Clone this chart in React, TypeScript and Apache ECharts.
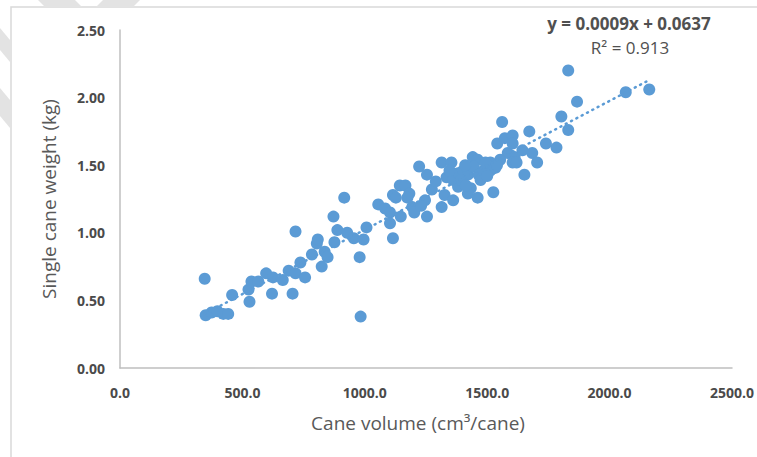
import React, { useEffect, useRef } from "react";
import * as echarts from "echarts";

const caneVolume: number[] = [
  346, 350, 374, 398, 422, 442, 458, 525, 529, 537, 565, 597, 625, 621, 665, 689, 705, 717, 737, 756,
  717, 784, 804, 824, 836, 848, 876, 808, 916, 872, 888, 928, 955, 995, 1007, 979, 983, 1055, 1083, 1103,
  1115, 1103, 1147, 1194, 1143, 1166, 1115, 1182, 1222, 1254, 1127, 1202, 1254, 1246, 1274, 1314, 1326, 1361, 1314, 1354,
  1334, 1361, 1381, 1401, 1421, 1441, 1461, 1445, 1465, 1433, 1381, 1421, 1461, 1513, 1513, 1525, 1561, 1541, 1572, 1604,
  1584, 1612, 1604, 1803, 1831, 1672, 1740, 1783, 1644, 1684, 1704, 1652, 1620, 1831, 1867, 2066, 2162, 1604, 1393, 1413,
  1473, 1485, 1493, 1533, 1553, 1346, 1174, 1230, 1290, 1410, 1500, 1540
];
const caneWeight: number[] = [
  0.66, 0.39, 0.41, 0.42, 0.40, 0.40, 0.54, 0.58, 0.49, 0.64, 0.64, 0.70, 0.67, 0.55, 0.65, 0.72, 0.55, 0.70, 0.78, 0.67,
  1.01, 0.84, 0.92, 0.75, 0.86, 0.82, 0.93, 0.95, 1.26, 1.12, 1.02, 1.00, 0.96, 0.95, 1.04, 0.82, 0.38, 1.21, 1.18, 1.15,
  0.96, 1.07, 1.12, 1.19, 1.35, 1.35, 1.28, 1.29, 1.49, 1.43, 1.26, 1.15, 1.12, 1.24, 1.32, 1.19, 1.28, 1.24, 1.52, 1.52,
  1.41, 1.39, 1.44, 1.46, 1.43, 1.56, 1.54, 1.49, 1.43, 1.33, 1.34, 1.29, 1.26, 1.52, 1.46, 1.30, 1.82, 1.66, 1.70, 1.72,
  1.59, 1.56, 1.52, 1.86, 1.76, 1.75, 1.66, 1.63, 1.61, 1.59, 1.52, 1.43, 1.52, 2.20, 1.97, 2.04, 2.06, 1.66, 1.39, 1.35,
  1.39, 1.46, 1.52, 1.48, 1.54, 1.46, 1.26, 1.20, 1.38, 1.50, 1.42, 1.50
];

const trendX: number[] = [346, 2162];
const trendY: number[] = [0.40, 2.13];

const xTicks = { min: 0, max: 2500, interval: 500 };
const yTicks = { min: 0, max: 2.5, interval: 0.5 };

const equationText = "y = 0.0009x + 0.0637";
const r2Text = "R² = 0.913";
const xTitle = "Cane volume (cm³/cane)";
const yTitle = "Single cane weight (kg)";

export default function App() {
  const ref = useRef<HTMLDivElement>(null);
  useEffect(() => {
    if (!ref.current) return;
    const chart = echarts.init(ref.current, undefined, { renderer: "svg", width: 757, height: 457 });
    const font = "'Open Sans', 'Noto Sans', sans-serif";
    const blue = "#5b9bd5";
    const textColor = "#595959";
    chart.setOption({
      animation: false,
      backgroundColor: "#ffffff",
      grid: { left: 120, width: 628, top: 30, height: 338, containLabel: false },
      xAxis: {
        type: "value",
        min: xTicks.min,
        max: xTicks.max,
        interval: xTicks.interval,
        name: xTitle,
        nameLocation: "middle",
        nameGap: 45,
        nameTextStyle: { color: textColor, fontSize: 19, fontFamily: font, padding: [0, 16, 0, 0] },
        axisLine: { show: true, lineStyle: { color: "#bfbfbf", width: 1.5 } },
        axisTick: { show: false },
        splitLine: { show: false },
        axisLabel: {
          margin: 17,
          color: "#4a4a4a",
          fontSize: 14,
          fontWeight: "bold",
          fontFamily: font,
          formatter: (v: number) => v.toFixed(1),
        },
      },
      yAxis: {
        type: "value",
        min: yTicks.min,
        max: yTicks.max,
        interval: yTicks.interval,
        name: yTitle,
        nameLocation: "middle",
        nameGap: 62,
        nameRotate: 90,
        nameTextStyle: { color: textColor, fontSize: 19, fontFamily: font },
        axisLine: { show: true, lineStyle: { color: "#bfbfbf", width: 1.5 } },
        axisTick: { show: false },
        splitLine: { show: false },
        axisLabel: {
          margin: 15,
          color: "#4a4a4a",
          fontSize: 14,
          fontWeight: "bold",
          fontFamily: font,
          formatter: (v: number) => v.toFixed(2),
        },
      },
      series: [
        {
          type: "scatter",
          data: caneVolume.map((v, i) => [v, caneWeight[i]]),
          symbol: "circle",
          symbolSize: 12,
          itemStyle: { color: blue, opacity: 1 },
          z: 3,
        },
        {
          type: "line",
          data: trendX.map((v, i) => [v, trendY[i]]),
          showSymbol: false,
          symbol: "none",
          lineStyle: { color: blue, width: 2.5, type: [1, 5], cap: "round" },
          z: 4,
        },
      ],
      graphic: [
        {
          type: "rect",
          shape: { x: 11, y: 7, width: 770, height: 470 },
          style: { fill: "none", stroke: "#d9d9d9", lineWidth: 1.5 },
          silent: true,
        },
        {
          type: "polygon",
          shape: { points: [[38, 0], [75, 0], [82, 7], [45, 7]] },
          style: { fill: "#e3e3e3" },
        },
        {
          type: "polygon",
          shape: { points: [[103, 0], [140, 0], [133, 7], [96, 7]] },
          style: { fill: "#e3e3e3" },
        },
        {
          type: "polygon",
          shape: { points: [[0, 28], [10, 40], [10, 62], [0, 50]] },
          style: { fill: "#e3e3e3" },
        },
        {
          type: "polygon",
          shape: { points: [[0, 88], [10, 100], [10, 128], [0, 116]] },
          style: { fill: "#e3e3e3" },
        },
        {
          type: "text",
          x: 629,
          y: 23,
          style: {
            text: equationText,
            fill: "#505050",
            fontSize: 17,
            fontWeight: "bold",
            fontFamily: font,
            align: "center",
            verticalAlign: "middle",
          },
        },
        {
          type: "text",
          x: 630,
          y: 47,
          style: {
            text: r2Text,
            fill: "#505050",
            fontSize: 17,
            fontFamily: font,
            align: "center",
            verticalAlign: "middle",
          },
        },
      ],
    });
    return () => chart.dispose();
  }, []);
  return (
    <div
      ref={ref}
      style={{ position: "fixed", left: 0, top: 0, width: 757, height: 457, background: "#fff" }}
    />
  );
}
